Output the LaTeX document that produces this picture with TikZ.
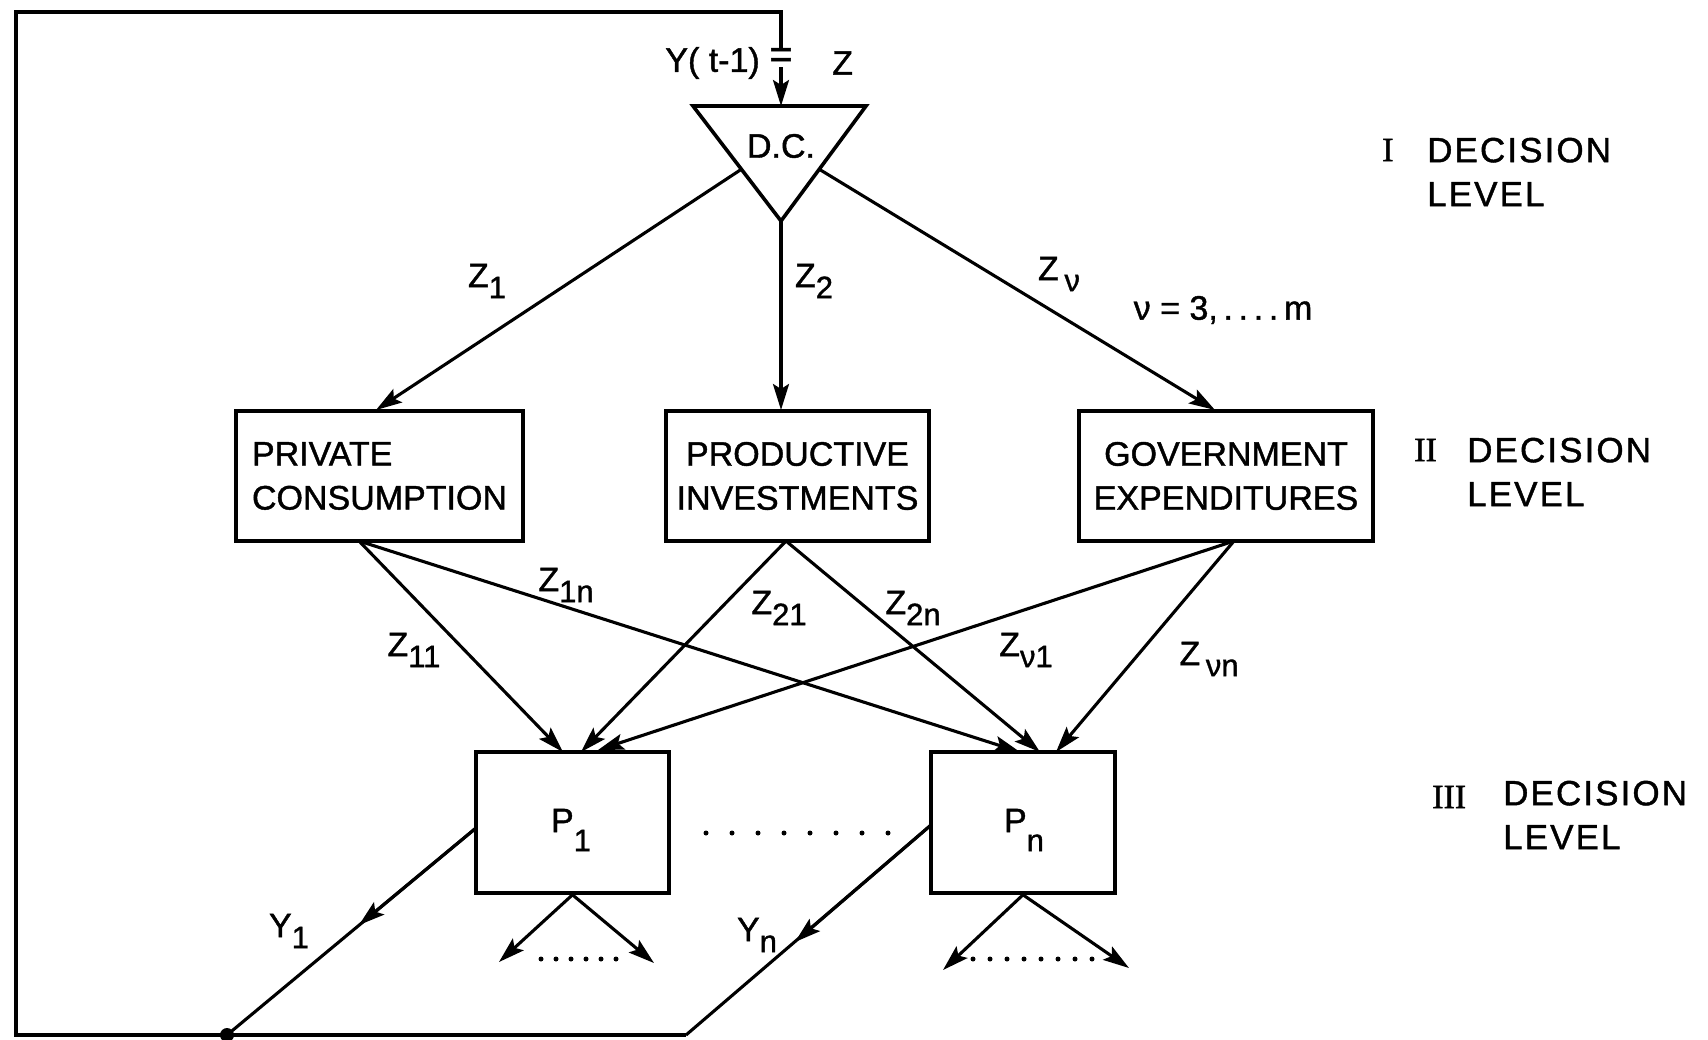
\documentclass[tikz,border=0pt]{standalone}
\usepackage{fontspec}
\setmainfont{Liberation Sans}[FakeBold=1.2]
\newfontfamily\romfont{Liberation Serif}[FakeBold=1.5]
\usetikzlibrary{arrows.meta,calc}
\newcommand{\lowsub}[1]{\raisebox{-11pt}{\fontsize{31}{31}\selectfont #1}}
\begin{document}
\begin{tikzpicture}[x=1pt,y=-1pt,
  every node/.style={font=\fontsize{34}{44}\selectfont, inner sep=0pt},
  boxnode/.style={draw, line width=3.6pt, minimum height=130pt, align=center},
  pbox/.style={draw, line width=3.6pt, minimum height=141pt},
  ln/.style={line width=3.1pt},
  arr/.style={ln, -{Stealth[length=26pt,width=16pt,inset=5pt]}},
  dots/.style={line width=5pt, line cap=round},
  levtext/.style={anchor=west, align=left, font=\fontsize{35}{44}\selectfont\addfontfeatures{LetterSpace=6}}
]
\useasboundingbox[fill=white] (0,0) rectangle (1708,1039);

% triangle D.C.
\coordinate (tl) at (693,106);
\coordinate (tr) at (866,106);
\coordinate (ta) at (781,221);
\draw[line width=3.6pt, line join=miter] (tl) -- (tr) -- (ta) -- cycle;
\node (dc) at (781,146) {D.C.};

% feedback loop corners
\coordinate (fbtop) at (781,12);
\coordinate (fbtl) at (16,12);
\coordinate (fbbl) at (16,1035);
\coordinate (fbbr) at (686,1035);
\coordinate (eqtop) at (781,49);
\coordinate (eqbot) at (781,67);

% input label
\node[anchor=east] (ylab) at (760,63) {Y( t-1)};
\node (eq) at (781,58) {\fontsize{40}{40}\selectfont =};
\node[anchor=west] (zlab) at (832,63) {Z};

\draw[ln] (eqtop) -- (fbtop) -- (fbtl) -- (fbbl) -- (fbbr);
\draw[arr] (eqbot) -- (781,106);

% level II boxes
\node[boxnode, minimum width=287pt, align=left] (pc) at (379.5,476) {PRIVATE\\CONSUMPTION};
\node[boxnode, minimum width=263pt] (pi) at (797.5,476) {PRODUCTIVE\\INVESTMENTS};
\node[boxnode, minimum width=294pt] (ge) at (1226,476) {GOVERNMENT\\EXPENDITURES};

% level III boxes
\node[pbox, minimum width=193pt] (p1) at (572.5,822.5) {};
\node (p1t) at (571,830) {P\lowsub{\raisebox{-8pt}{1}}};
\node[pbox, minimum width=184pt] (pn) at (1023,822.5) {};
\node (pnt) at (1024,830) {P\lowsub{\raisebox{-8pt}{n}}};

% level I -> II
\draw[arr] ($(tl)!0.55!(ta)$) -- (376,410);
\draw[arr] (ta) -- (781,410);
\draw[arr] ($(tr)!0.55!(ta)$) -- (1215,410);
\node (z1) at (487,281) {Z\lowsub{1}};
\node (z2) at (814,281) {Z\lowsub{2}};
\node (zv) at (1059,274) {Z\,\lowsub{ν}};
\node (vrange) at (1223,310) {ν = 3,\,.\,.\,.\,.\,m};

% level II -> III
\coordinate (pcb) at (359,541);
\coordinate (pib) at (786,541);
\coordinate (geb) at (1234,541);
\coordinate (p1a) at (563,752);
\coordinate (p1b) at (581,752);
\coordinate (p1c) at (598,750);
\coordinate (pna) at (1020,752);
\coordinate (pnb) at (1040,752);
\coordinate (pnc) at (1056,752);
\draw[arr] (pcb) -- (p1a);
\draw[arr] (pcb) -- (pna);
\draw[arr] (pib) -- (p1b);
\draw[arr] (pib) -- (pnb);
\draw[arr] (geb) -- (p1c);
\draw[arr] (geb) -- (pnc);
\node (z1n) at (566,585) {Z\lowsub{1n}};
\node (z11) at (414,650) {Z\lowsub{11}};
\node (z21) at (779,608) {Z\lowsub{21}};
\node (z2n) at (913,608) {Z\lowsub{2n}};
\node (zv1) at (1026,650) {Z\lowsub{ν1}};
\node (zvn) at (1209,659) {Z\,\lowsub{νn}};

% dots between P boxes
\draw[dots, dash pattern=on 0pt off 26pt] (706,833) -- (892,833);

% outputs of P boxes
\coordinate (p1l) at (476,828);
\coordinate (y1m) at (359,925);
\coordinate (y1e) at (227,1035);
\draw[ln] (p1l) -- (y1e);
\draw[arr] (p1l) -- (y1m);
\fill (y1e) circle (7pt);
\coordinate (pnl) at (931,825);
\coordinate (ynm) at (795,942);
\draw[ln] (pnl) -- (fbbr);
\draw[arr] (pnl) -- (ynm);
\node (y1) at (289,931) {Y\lowsub{1}};
\node (yn) at (757,935) {Y\lowsub{n}};

\coordinate (p1o1) at (499,962);
\coordinate (p1o2) at (654,963);
\draw[arr] (p1.south) -- (p1o1);
\draw[arr] (p1.south) -- (p1o2);
\draw[dots, dash pattern=on 0pt off 15pt] (541,959) -- (621,959);
\coordinate (pno1) at (943,970);
\coordinate (pno2) at (1129,968);
\draw[arr] (pn.south) -- (pno1);
\draw[arr] (pn.south) -- (pno2);
\draw[dots, dash pattern=on 0pt off 17pt] (973,959) -- (1098,959);

% decision levels
\node[anchor=west] (r1) at (1382,150) {\romfont I};
\node[levtext] (l1) at (1427,172) {DECISION\\LEVEL};
\node[anchor=west] (r2) at (1414,450) {\romfont II};
\node[levtext] (l2) at (1467,472) {DECISION\\LEVEL};
\node[anchor=west] (r3) at (1432,797) {\romfont III};
\node[levtext] (l3) at (1503,815) {DECISION\\LEVEL};
\end{tikzpicture}
\end{document}
